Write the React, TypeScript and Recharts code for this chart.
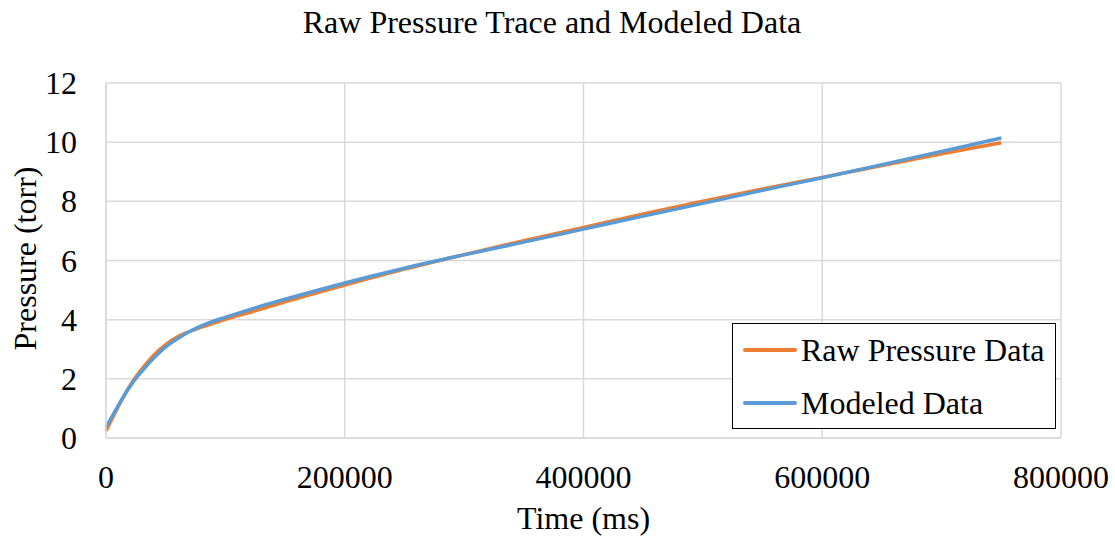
import { LineChart, Line, XAxis, YAxis, CartesianGrid, Legend } from 'recharts';

// Pressure trace sampled from the gauge, plus the fitted model curve
const timeMs = [
  0, 5000, 10000, 15000, 20000, 25000, 30000, 40000, 50000, 60000, 70000, 80000, 90000,
  100000, 125000, 150000, 175000, 200000, 250000, 300000, 350000, 400000, 450000, 500000,
  550000, 600000, 650000, 700000, 750000,
];
const rawPressure = [
  0.24, 0.64, 1.04, 1.42, 1.76, 2.06, 2.33, 2.8, 3.16, 3.42, 3.6, 3.75, 3.88,
  4.01, 4.3, 4.6, 4.89, 5.17, 5.71, 6.2, 6.67, 7.12, 7.57, 8.0,
  8.42, 8.81, 9.21, 9.61, 9.98,
];
const modeledPressure = [
  0.36, 0.72, 1.08, 1.42, 1.73, 2.01, 2.25, 2.7, 3.08, 3.36, 3.6, 3.79, 3.95,
  4.08, 4.4, 4.69, 4.97, 5.24, 5.74, 6.19, 6.62, 7.06, 7.5, 7.93,
  8.37, 8.8, 9.24, 9.69, 10.14,
];
const xTicks = [0, 200000, 400000, 600000, 800000];
const yTicks = [0, 2, 4, 6, 8, 10, 12];
const seriesOrder = ['raw', 'modeled'];

const chartData = timeMs.map((t, i) => ({
  t,
  raw: rawPressure[i],
  modeled: modeledPressure[i],
}));

const FONT = "'Liberation Serif', 'Times New Roman', serif";
const TEXT_SIZE = 32;
const GRID = '#d9d9d9';

const XTick = ({ x, y, payload }: any) => (
  <text x={x} y={y + 50} textAnchor="middle" fontFamily={FONT} fontSize={TEXT_SIZE} fill="#000">
    {payload.value}
  </text>
);

const YTick = ({ x, y, payload }: any) => (
  <text x={x - 29} y={y + 11} textAnchor="end" fontFamily={FONT} fontSize={TEXT_SIZE} fill="#000">
    {payload.value}
  </text>
);

const XTitle = ({ viewBox }: any) => (
  <text
    x={viewBox.x + viewBox.width / 2}
    y={529}
    textAnchor="middle"
    fontFamily={FONT}
    fontSize={TEXT_SIZE}
    fill="#000"
  >
    Time (ms)
  </text>
);

const YTitle = ({ viewBox }: any) => {
  const cx = 36;
  const cy = viewBox.y + viewBox.height / 2 - 2;
  return (
    <text
      x={cx}
      y={cy}
      transform={`rotate(-90, ${cx}, ${cy})`}
      textAnchor="middle"
      fontFamily={FONT}
      fontSize={TEXT_SIZE}
      fill="#000"
    >
      Pressure (torr)
    </text>
  );
};

// Boxed legend sitting inside the lower right of the plot
const LegendBox = ({ payload }: any) => {
  const items = [...(payload || [])].sort(
    (a: any, b: any) => seriesOrder.indexOf(a.dataKey) - seriesOrder.indexOf(b.dataKey)
  );
  return (
    <div
      style={{
        width: 324,
        height: 106,
        border: '1.5px solid #000',
        background: '#fff',
        boxSizing: 'border-box',
        position: 'relative',
        fontFamily: FONT,
      }}
    >
      {items.map((entry: any, i: number) => (
        <div
          key={entry.value}
          style={{
            position: 'absolute',
            left: 10,
            top: i === 0 ? 6 : 59,
            height: 40,
            display: 'flex',
            alignItems: 'center',
            whiteSpace: 'nowrap',
          }}
        >
          <span
            style={{
              display: 'inline-block',
              width: 54,
              height: 4,
              borderRadius: 2,
              background: entry.color,
            }}
          />
          <span style={{ marginLeft: 4, fontSize: TEXT_SIZE, lineHeight: '40px', color: '#000' }}>
            {entry.value}
          </span>
        </div>
      ))}
    </div>
  );
};

export default function App() {
  return (
    <div style={{ position: 'absolute', left: 0, top: 0, width: 1115, height: 540, background: '#fff' }}>
      <div
        style={{
          position: 'absolute',
          left: 0,
          top: 4,
          width: 1104,
          textAlign: 'center',
          fontFamily: FONT,
          fontSize: 32,
          lineHeight: '36px',
          color: '#000',
        }}
      >
        Raw Pressure Trace and Modeled Data
      </div>
      <LineChart
        width={1115}
        height={540}
        data={chartData}
        margin={{ top: 83, right: 54, left: 0, bottom: 0 }}
      >
        <CartesianGrid stroke={GRID} strokeWidth={1.5} />
        <XAxis
          dataKey="t"
          type="number"
          domain={[0, 800000]}
          ticks={xTicks}
          height={102}
          tickLine={false}
          tickSize={0}
          tickMargin={0}
          axisLine={{ stroke: GRID, strokeWidth: 1.5 }}
          tick={<XTick />}
          label={<XTitle />}
        />
        <YAxis
          type="number"
          domain={[0, 12]}
          ticks={yTicks}
          width={106}
          tickLine={false}
          tickSize={0}
          tickMargin={0}
          axisLine={{ stroke: GRID, strokeWidth: 1.5 }}
          tick={<YTick />}
          label={<YTitle />}
        />
        <Legend
          layout="horizontal"
          align="center"
          verticalAlign="middle"
          content={<LegendBox />}
          wrapperStyle={{ left: 732, top: 323, width: 324, height: 106 }}
        />
        <Line
          name="Raw Pressure Data"
          dataKey="raw"
          type="monotone"
          stroke="#ED7D31"
          strokeWidth={3.5}
          dot={false}
          activeDot={false}
          isAnimationActive={false}
        />
        <Line
          name="Modeled Data"
          dataKey="modeled"
          type="monotone"
          stroke="#5B9BD5"
          strokeWidth={3.5}
          dot={false}
          activeDot={false}
          isAnimationActive={false}
        />
      </LineChart>
    </div>
  );
}
